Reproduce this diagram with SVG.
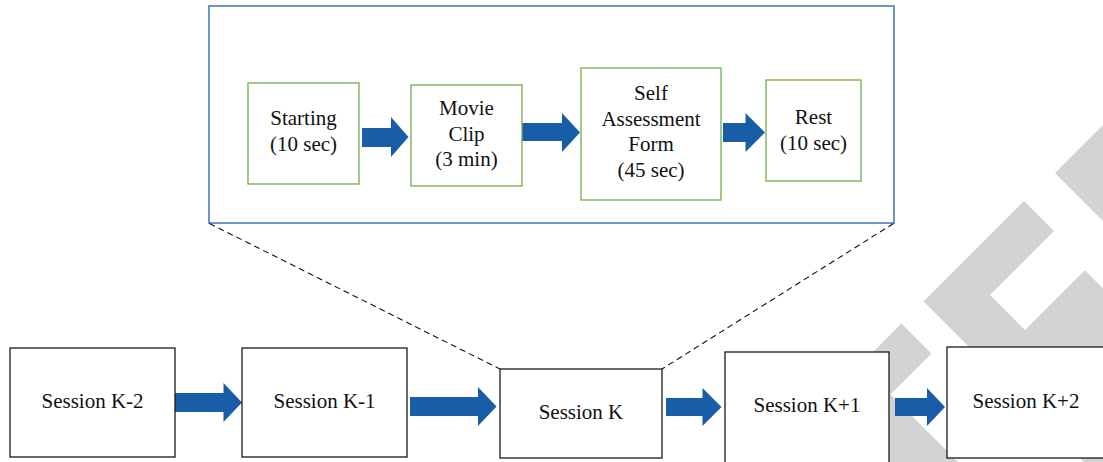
<svg xmlns="http://www.w3.org/2000/svg" width="1103" height="462" viewBox="0 0 1103 462">
<style>
.wm{fill:#d3d3d3;stroke:none}
.sess{fill:#fff;stroke:#1a1a1a;stroke-width:1.3}
.step{fill:#fff;stroke:#70ad47;stroke-width:1.3}
.frame{fill:#fff;stroke:#4a7ebb;stroke-width:1.6}
.arr{fill:#175ea6;stroke:none}
.dash{fill:none;stroke:#111;stroke-width:1.1;stroke-dasharray:6 4}
text{font-family:"Liberation Serif","Times New Roman",serif;font-size:21px;fill:#111;text-anchor:middle}
</style>
<rect width="1103" height="462" fill="#fff"/>
<g id="watermark">
<polygon class="wm" points="1055,173 1110,118 1110,228"/>
<polygon class="wm" points="1024,201 923.5,301.5 1110,488 1110,295.5 1084.75,270.25 1025,330 990,295 1054,231"/>
<polygon class="wm" points="901.5,323.5 931.5,353.5 890.5,394.5 966,470 895,470 825,400"/>
</g>
<g id="frame">
<rect class="frame" x="209" y="6" width="685" height="217"/>
</g>
<g id="connectors">
<line class="dash" x1="209.5" y1="223.5" x2="500" y2="369"/>
<line class="dash" x1="893.5" y1="223.5" x2="662" y2="369"/>
<polygon class="arr" points="362,128 391,128 391,117 408.5,137 391,157 391,147 362,147"/>
<polygon class="arr" points="522,123 562,123 562,113 580,132.5 562,152 562,141 522,141"/>
<polygon class="arr" points="723,123 745.5,123 745.5,113 765,132.5 745.5,152 745.5,142 723,142"/>
<polygon class="arr" points="175,393 223.5,393 223.5,383 242,402.5 223.5,422 223.5,412 175,412"/>
<polygon class="arr" points="410,397 478,397 478,387 496.5,406.5 478,426 478,416 410,416"/>
<polygon class="arr" points="666,398 702.5,398 702.5,388 721.5,407 702.5,426 702.5,416 666,416"/>
<polygon class="arr" points="895,398 927,398 927,388 945,407 927,426 927,416 895,416"/>
</g>
<g id="starting">
<rect class="step" x="248" y="83" width="111" height="101"/>
<text x="303.5" y="125">Starting</text>
<text x="303.5" y="151">(10 sec)</text>
</g>
<g id="movie-clip">
<rect class="step" x="411" y="85" width="111" height="101"/>
<text x="466.5" y="115">Movie</text>
<text x="466.5" y="141">Clip</text>
<text x="466.5" y="166">(3 min)</text>
</g>
<g id="self-assessment">
<rect class="step" x="581" y="68" width="140" height="132"/>
<text x="651" y="100">Self</text>
<text x="651" y="126">Assessment</text>
<text x="651" y="151">Form</text>
<text x="651" y="177">(45 sec)</text>
</g>
<g id="rest">
<rect class="step" x="766" y="80" width="95" height="101"/>
<text x="813.5" y="123.5">Rest</text>
<text x="813.5" y="150">(10 sec)</text>
</g>
<g id="session-k-2">
<rect class="sess" x="10" y="348" width="165" height="109"/>
<text x="92.5" y="408">Session K-2</text>
</g>
<g id="session-k-1">
<rect class="sess" x="242" y="348" width="165" height="109"/>
<text x="324.5" y="408">Session K-1</text>
</g>
<g id="session-k">
<rect class="sess" x="500" y="369" width="162" height="89"/>
<text x="581" y="419">Session K</text>
</g>
<g id="session-k1">
<rect class="sess" x="725" y="352" width="164" height="114"/>
<text x="807" y="412">Session K+1</text>
</g>
<g id="session-k2">
<rect class="sess" x="947" y="347" width="162" height="111"/>
<text x="1026" y="408">Session K+2</text>
</g>
</svg>
